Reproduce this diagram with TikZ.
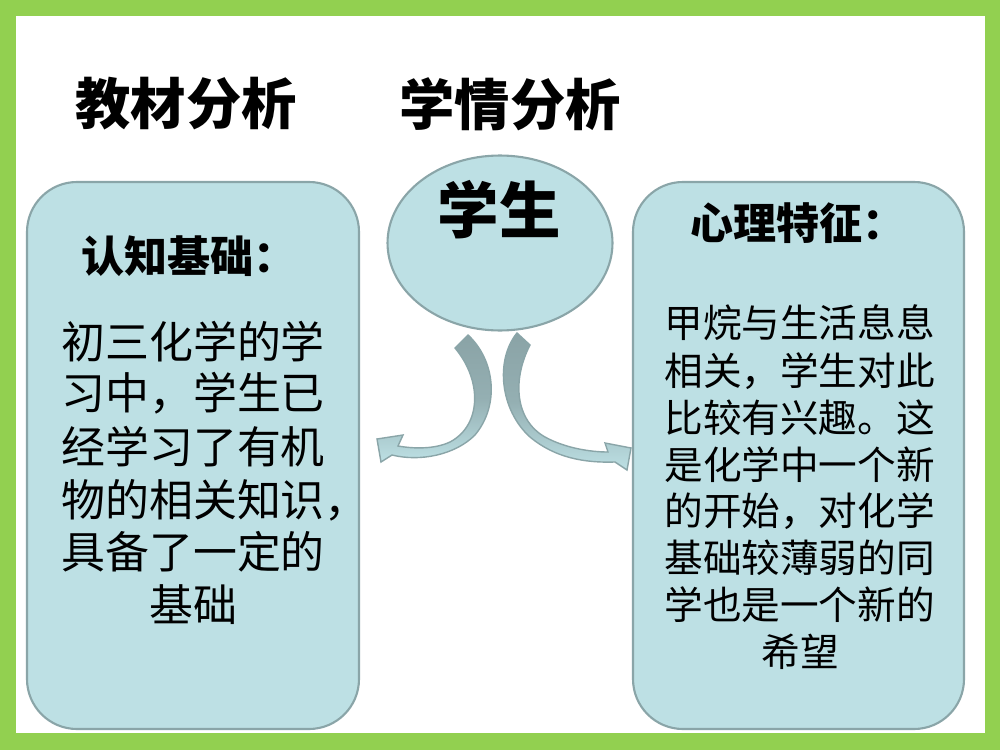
\documentclass[tikz,border=0pt]{standalone}
\usepackage{fontspec}
\usetikzlibrary{shapes.geometric}
\newfontfamily\cjk{Noto Sans CJK SC}
\definecolor{greenbg}{HTML}{92D050}
\definecolor{boxfill}{HTML}{BDE0E4}
\definecolor{boxedge}{HTML}{8AA5A8}
\definecolor{arrowdark}{HTML}{8AA3A6}
\tikzset{
  panel/.style={draw=boxedge, fill=boxfill, line width=1.2pt, rounded corners=1cm},
  bodyL/.style={inner sep=0pt, anchor=west, font=\cjk\fontsize{25}{25}\selectfont},
  bodyR/.style={inner sep=0pt, anchor=west, font=\cjk\fontsize{22}{22}\selectfont},
  titletext/.style={inner sep=0pt, font=\cjk\bfseries\fontsize{31.5}{31.5}\selectfont},
  headtext/.style={inner sep=0pt, font=\cjk\bfseries\fontsize{24.5}{24.5}\selectfont},
  curvearrow/.style={draw=boxedge, line width=0.8pt, top color=arrowdark, bottom color=boxfill, middle color=arrowdark!80!boxfill},
}
\begin{document}
\begin{tikzpicture}[x=0.02cm, y=-0.02cm]
\useasboundingbox (0,0) rectangle (1000,750);
\fill[greenbg] (0,0) rectangle (1000,750);
\fill[white] (16,16) rectangle (985,733);

% titles
\node[titletext] (t1) at (186,104) {教材分析};
\node[titletext] (t2) at (510,104) {学情分析};

% panels
\draw[panel] (27,182) rectangle (359,729);
\draw[panel] (633,182) rectangle (964,729);

% ellipse
\node[ellipse, draw=boxedge, fill=boxfill, line width=1.2pt, minimum width=4.5cm, minimum height=3.5cm] (student) at (500,243) {};
\node[headtext, font=\cjk\bfseries\fontsize{35}{35}\selectfont] (stu) at (499,210) {学生};

% curved arrows
\path[curvearrow] (468,335) -- (455,348)
  .. controls (482,380) and (482,425) .. (450,442)
  .. controls (435,449) and (415,449) .. (398,446)
  -- (403,435) -- (377,439) -- (381,462) -- (392,455)
  .. controls (420,462) and (455,455) .. (475,435)
  .. controls (500,405) and (495,360) .. (468,335) -- cycle;
\path[curvearrow] (517,333) -- (530,345)
  .. controls (512,380) and (515,420) .. (545,437)
  .. controls (565,448) and (590,452) .. (608,452)
  -- (605,443) -- (631,448) -- (627,470) -- (615,462)
  .. controls (585,463) and (555,458) .. (530,437)
  .. controls (500,410) and (495,360) .. (517,333) -- cycle;

% headings
\node[headtext, anchor=west] (h1) at (81,256) {认知基础：};
\node[headtext, anchor=west] (h2) at (690,223) {心理特征：};

% left body
\node[bodyL] (l1) at (61,342) {初三化学的学};
\node[bodyL] (l2) at (61,393) {习中，学生已};
\node[bodyL] (l3) at (61,447) {经学习了有机};
\node[bodyL] (l4) at (61,500) {物的相关知识，};
\node[bodyL] (l5) at (61,552) {具备了一定的};
\node[bodyL, anchor=center] (l6) at (193,605) {基础};

% right body
\node[bodyR] (r1) at (664,323) {甲烷与生活息息};
\node[bodyR] (r2) at (664,371) {相关，学生对此};
\node[bodyR] (r3) at (664,418) {比较有兴趣。这};
\node[bodyR] (r4) at (664,465) {是化学中一个新};
\node[bodyR] (r5) at (664,511) {的开始，对化学};
\node[bodyR] (r6) at (664,558) {基础较薄弱的同};
\node[bodyR] (r7) at (664,605) {学也是一个新的};
\node[bodyR, anchor=center] (r8) at (800,652) {希望};
\end{tikzpicture}
\end{document}
